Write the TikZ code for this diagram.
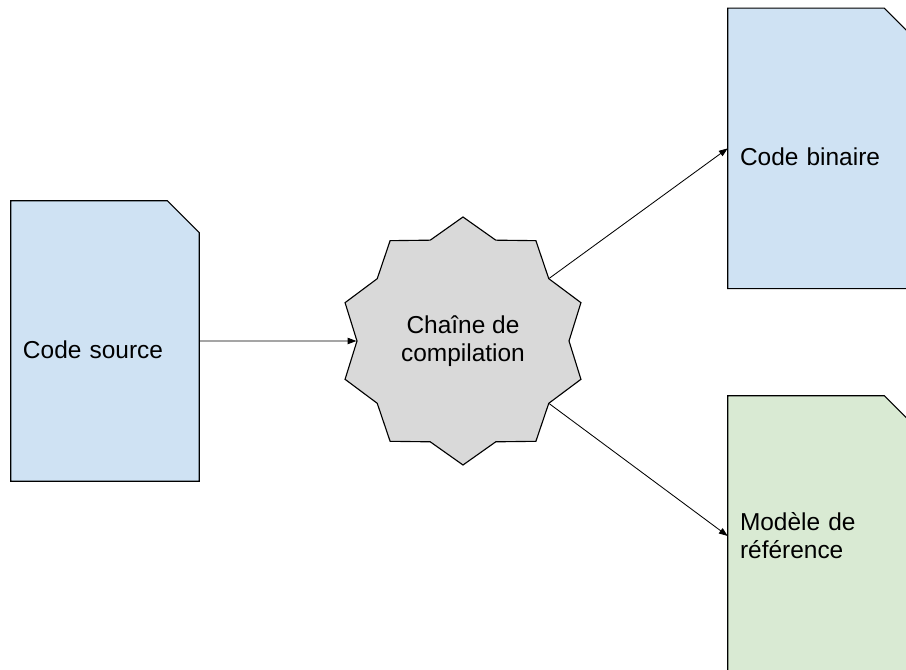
\documentclass[tikz,border=0pt]{standalone}
\usepackage{fontspec}
\setmainfont{Liberation Sans}
\usetikzlibrary{shapes.geometric,arrows.meta,backgrounds}
\definecolor{docblue}{HTML}{CFE2F3}
\definecolor{docgreen}{HTML}{D9EAD3}
\definecolor{stargray}{HTML}{D9D9D9}
\tikzset{
  doc/.style={rectangle, minimum width=4.7 cm, minimum height=7 cm,
    inner xsep=0.3 cm, text width=4.1 cm, align=left,
    font=\fontsize{17.4}{20}\selectfont},
  oneline/.style={text height=25pt, text depth=0pt},
  chaine/.style={star, star points=10, star point ratio=1.17, minimum size=6.2 cm,
    draw=black, line width=0.8pt, fill=stargray, align=center,
    font=\fontsize{17.4}{20}\selectfont},
  fleche/.style={line width=0.6pt, -{Triangle[length=2.2mm, width=1.6mm]}}
}
\begin{document}
\begin{tikzpicture}
    \useasboundingbox (0,0) rectangle (22.65,16.75);
    \clip (0,0) rectangle (22.65,16.75);
    \node[doc, oneline] (source) at (2.625,8.225) {Code source};
    \node[chaine] (chaine) at (11.575,8.225) {Chaîne de\\compilation};
    \node[doc, oneline] (binaire) at (20.55,13.04) {Code binaire};
    \node[doc] (modele) at (20.55,3.35) {Modèle de\\référence};
    % feuilles au coin coupe
    \begin{scope}[on background layer]
    \foreach \n/\c in {source/docblue, binaire/docblue, modele/docgreen}
        \draw[fill=\c, line width=0.8pt] (\n.south west) -- (\n.north west)
            -- ([xshift=-0.8 cm]\n.north east) -- ([yshift=-0.8 cm]\n.north east)
            -- (\n.south east) -- cycle;
    \end{scope}
    \draw[fleche] (source) -- (chaine);
    \draw[fleche] (chaine.36) -- (binaire.west);
    \draw[fleche] (chaine.-36) -- (modele.west);
\end{tikzpicture}
\end{document}
